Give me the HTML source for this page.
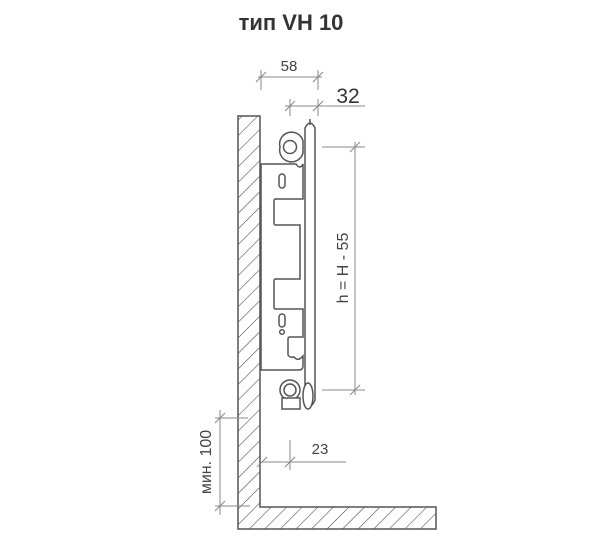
<!DOCTYPE html>
<html><head><meta charset="utf-8"><style>body{margin:0;background:#fff}svg{display:block}</style></head><body>
<svg width="600" height="544" viewBox="0 0 600 544" xmlns="http://www.w3.org/2000/svg" font-family="Liberation Sans, DejaVu Sans, sans-serif">
<defs>
<pattern id="h" width="11" height="11" patternUnits="userSpaceOnUse" patternTransform="rotate(45)">
<line x1="0" y1="0" x2="0" y2="11" stroke="#444" stroke-width="1.1"/>
</pattern>
</defs>
<text x="291" y="30" text-anchor="middle" font-size="22" font-weight="bold" fill="#333">тип VH 10</text>
<path d="M238 116 H260 V507 H436 V529 H238 Z" fill="url(#h)" stroke="#555" stroke-width="1.5"/>
<g stroke="#888" stroke-width="1" fill="none">
<line x1="258" y1="77" x2="322" y2="77"/><line x1="261" y1="70" x2="261" y2="90"/><line x1="318" y1="70" x2="318" y2="90"/>
<line x1="256" y1="82" x2="266" y2="72"/><line x1="313" y1="82" x2="323" y2="72"/>
<line x1="285" y1="106" x2="365" y2="106"/><line x1="290" y1="99" x2="290" y2="116"/><line x1="318" y1="99" x2="318" y2="116"/>
<line x1="285" y1="111" x2="295" y2="101"/><line x1="313" y1="111" x2="323" y2="101"/>
<line x1="322" y1="147" x2="365" y2="147"/><line x1="322" y1="390" x2="365" y2="390"/>
<line x1="355" y1="142" x2="355" y2="395"/>
<line x1="350" y1="152" x2="360" y2="142"/><line x1="350" y1="395" x2="360" y2="385"/>
<line x1="262" y1="462" x2="346" y2="462"/><line x1="290" y1="440" x2="290" y2="470"/>
<line x1="285" y1="467" x2="295" y2="457"/><line x1="257" y1="467" x2="267" y2="457"/>
<line x1="215" y1="418" x2="248" y2="418"/><line x1="215" y1="506" x2="250" y2="506"/>
<line x1="220" y1="410" x2="220" y2="515"/>
<line x1="215" y1="423" x2="225" y2="413"/><line x1="215" y1="511" x2="225" y2="501"/>
</g>
<text x="289" y="71" text-anchor="middle" font-size="15" fill="#444">58</text>
<text x="348" y="103" text-anchor="middle" font-size="21" fill="#333">32</text>
<text x="320" y="454" text-anchor="middle" font-size="15" fill="#444">23</text>
<text transform="translate(348,268) rotate(-90)" text-anchor="middle" font-size="16" fill="#444">h = H - 55</text>
<text transform="translate(211,462) rotate(-90)" text-anchor="middle" font-size="16" fill="#444">мин. 100</text>
<g stroke="#555" stroke-width="1.5" fill="#fff">
<path d="M261 164 H296 Q300 170 303 164 V199 H276 Q274 199 274 201 V223 Q274 225 276 225 H300 V279 H276 Q274 279 274 281 V307 Q274 309 276 309 H303 V337 H290 Q288 337 288 339 V355 Q290 358 294 357 Q298 362 303 356 V366 Q303 370 299 370 H261 Z"/>
<rect x="279" y="174" width="6" height="14" rx="3"/>
<rect x="279" y="314" width="6" height="13" rx="3"/>
<circle cx="282" cy="332" r="2.3"/>
<path d="M280 147 a10 10 0 1 1 23 -6 V153 a10 10 0 0 1 -23 -6 Z"/>
<circle cx="290" cy="147" r="6.5"/>
<path d="M305 128 Q310 118 315 128 V400 Q310 412 305 400 Z"/>
<line x1="310" y1="119" x2="310" y2="125"/>
<circle cx="290" cy="390" r="10"/>
<circle cx="290" cy="390" r="6"/>
<rect x="282" y="398" width="18" height="11"/>
<ellipse cx="308" cy="396" rx="5" ry="13"/>
</g>
</svg>
</body></html>
